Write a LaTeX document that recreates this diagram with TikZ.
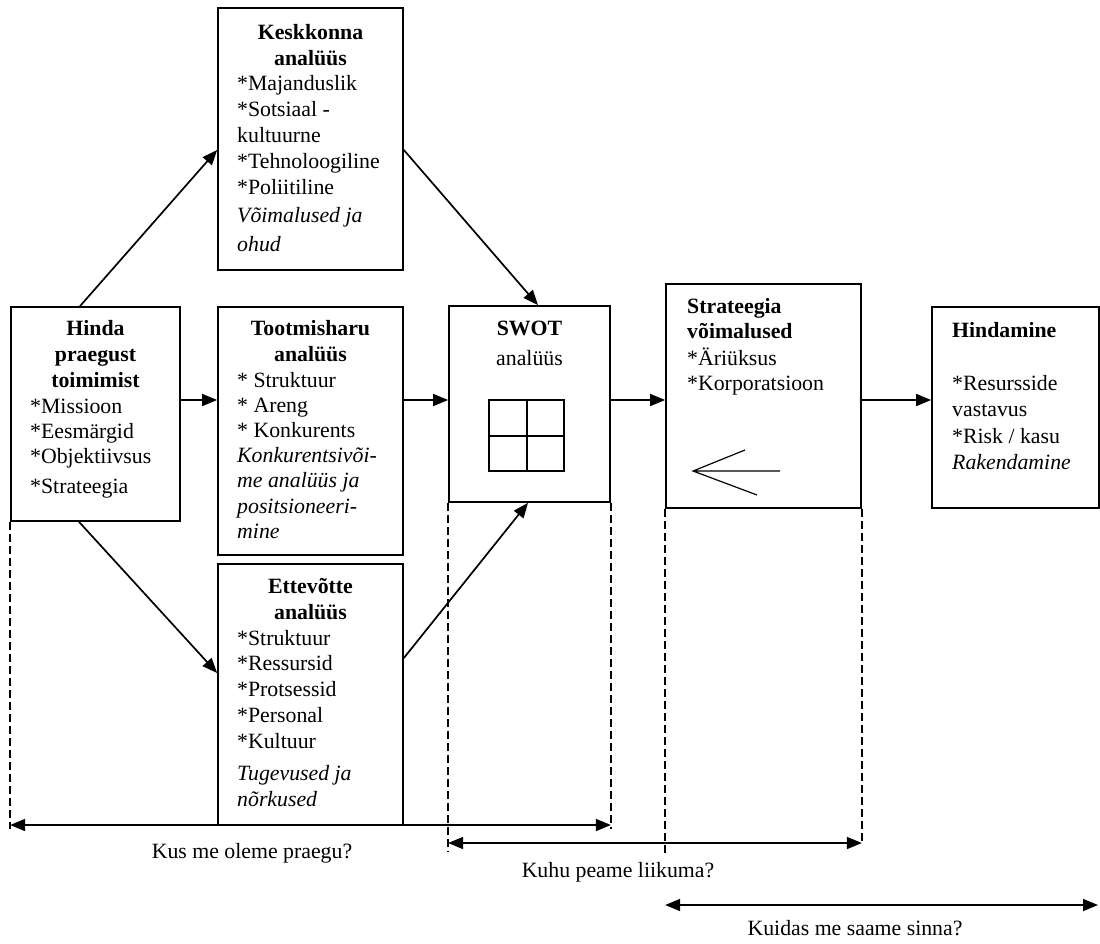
\documentclass[tikz,border=0pt]{standalone}
\usepackage{fontspec}
\setmainfont{Liberation Serif}
\usetikzlibrary{arrows.meta}
\newcommand\dfont[1][26]{\fontsize{21.8pt}{#1pt}\selectfont}
\begin{document}
\begin{tikzpicture}[x=1pt,y=-1pt,
  box/.style={draw, line width=1.7pt, inner sep=0pt},
  arr/.style={line width=1.7pt, -{Triangle[length=15pt,width=12pt]}},
  dim/.style={line width=1.7pt, {Triangle[length=15pt,width=12pt]}-{Triangle[length=15pt,width=12pt]}},
  dsh/.style={line width=1.5pt, dash pattern=on 8pt off 4pt},
  ttl/.style={font=\dfont\bfseries, align=center, inner sep=0pt, anchor=base},
  body/.style={align=left, inner sep=0pt, anchor=base west},
  lbl/.style={font=\dfont, inner sep=0pt, anchor=base},
]
\useasboundingbox (0,0) rectangle (1100,943);

% boxes
\node[box, minimum width=169pt, minimum height=214pt] (hinda) at (95.5,414) {};
\node[box, minimum width=185pt, minimum height=262pt] (kesk) at (310.5,139) {};
\node[box, minimum width=185pt, minimum height=248pt] (toot) at (310.5,431) {};
\node[box, minimum width=185pt, minimum height=261pt] (ett) at (310.5,694.5) {};
\node[box, minimum width=161pt, minimum height=196pt] (swot) at (529.5,404) {};
\node[box, minimum width=195pt, minimum height=224pt] (strat) at (763.5,396) {};
\node[box, minimum width=167pt, minimum height=201pt] (hind) at (1015.5,407.5) {};

% texts (anchor base = baseline of the last line)
\node[ttl] (hindaT) at (95.5,387) {Hinda\\praegust\\toimimist};
\node[body, font={\dfont[25]}] (hindaB) at (30,493) {*Missioon\\*Eesmärgid\\*Objektiivsus\\[5pt]*Strateegia};

\node[ttl] (keskT) at (310.5,65.3) {Keskkonna\\analüüs};
\node[body, font={\dfont[26]}] (keskB) at (237,251.7) {*Majanduslik\\*Sotsiaal -\\kultuurne\\*Tehnoloogiline\\*Poliitiline\\[2pt]\textit{Võimalused ja}\\[3pt]\textit{ohud}};

\node[ttl] (tootT) at (310.5,361) {Tootmisharu\\analüüs};
\node[body, font={\dfont[25.2]}] (tootB) at (237,538.2) {* Struktuur\\* Areng\\* Konkurents\\\textit{Konkurentsivõi-}\\\textit{me analüüs ja}\\\textit{positsioneeri-}\\\textit{mine}};

\node[ttl] (ettT) at (310.5,619) {Ettevõtte\\analüüs};
\node[body, font={\dfont[25.8]}] (ettB) at (237,806.8) {*Struktuur\\*Ressursid\\*Protsessid\\*Personal\\*Kultuur\\[6pt]\textit{Tugevused ja}\\[1pt]\textit{nõrkused}};

\node[ttl] (swotT) at (529.5,335) {SWOT};
\node[lbl] (swotB) at (529.5,365) {analüüs};

\node[body, font={\dfont[25.5]}] (stratB) at (687,390.5) {\textbf{Strateegia}\\\textbf{võimalused}\\[1pt]*Äriüksus\\*Korporatsioon};

\node[body, font=\dfont\bfseries] (hindT) at (952,337) {Hindamine};
\node[body, font={\dfont[26]}] (hindB) at (952,469) {*Resursside\\vastavus\\[1pt]*Risk / kasu\\\textit{Rakendamine}};

% SWOT grid
\draw[line width=1.7pt] (489,400) rectangle (564,471);
\draw[line width=1.7pt] (527,400) -- (527,471) (489,436) -- (564,436);

% open arrow inside strategy box
\draw[line width=1.2pt] (745,450) -- (693,471) -- (757,495) (693,471) -- (780,471);

% connectors
\coordinate (row) at (0,400);
\draw[arr] ([xshift=-15.5pt]hinda.north) -- ([yshift=-11pt]kesk.west);
\draw[arr] ([yshift=-11pt]kesk.east) -- ([xshift=8.5pt]swot.north);
\draw[arr] (hinda.east |- row) -- (toot.west |- row);
\draw[arr] (toot.east |- row) -- (swot.west |- row);
\draw[arr] ([xshift=-16.5pt]hinda.south) -- ([yshift=21.5pt]ett.west);
\draw[arr] ([yshift=36.5pt]ett.east) -- ([xshift=-1.5pt]swot.south);
\draw[arr] (swot.east |- row) -- (strat.west |- row);
\draw[arr] (strat.east |- row) -- (hind.west |- row);

% bottom dimension lines
\coordinate (r1) at (0,825);
\coordinate (r2) at (0,843);
\coordinate (r3) at (0,905);
\coordinate (d1) at (0,829);
\coordinate (d2) at (0,852);
\coordinate (d3) at (0,853);
\coordinate (kend) at (1098,905);

\draw[dsh] (hinda.south west) -- (hinda.south west |- d1);
\draw[dsh] (swot.south east) -- (swot.south east |- d1);
\draw[dsh] (swot.south west) -- (swot.south west |- d2);
\draw[dsh] (strat.south east) -- (strat.south east |- r2);
\draw[dsh] (strat.south west) -- (strat.south west |- d3);

\draw[dim] (hinda.south west |- r1) -- (swot.south east |- r1);
\draw[dim] (swot.south west |- r2) -- (strat.south east |- r2);
\draw[dim] (strat.south west |- r3) -- (kend);

\node[lbl] (l1) at (252,858) {Kus me oleme praegu?};
\node[lbl] (l2) at (618,877) {Kuhu peame liikuma?};
\node[lbl] (l3) at (855,935) {Kuidas me saame sinna?};
\end{tikzpicture}
\end{document}
